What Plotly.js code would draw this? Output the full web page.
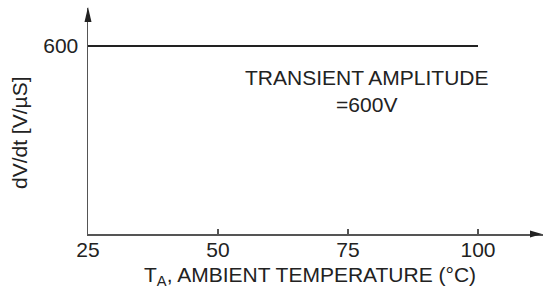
<!DOCTYPE html>
<html><head><meta charset="utf-8">
<script src="https://cdn.plot.ly/plotly-3.0.1.min.js"></script>
<style>html,body{margin:0;padding:0;background:#fff}#c{width:543px;height:291px}</style>
</head><body><div id="c"></div>
<script>
const temps = [25, 100];
const dvdt = [600, 600];
const xTicks = [25, 50, 75, 100];
const yTicks = [600];
const note = "TRANSIENT AMPLITUDE<br>=600V";
const xTitle = "T<sub>A</sub>, AMBIENT TEMPERATURE (°C)";
const yTitle = "dV/dt [V/µS]";

const W = 543, H = 291, L = 88, R = 0, T = 8, B = 57;
const pw = W - L - R, ph = H - T - B;
const px = x => (x - L) / pw;
const py = y => (H - B - y) / ph;
const FONT = "Liberation Sans, Arial, sans-serif";
const FS = 21;

const shapes = [
  {type:'path', xref:'paper', yref:'paper', fillcolor:'#222', line:{width:0},
   path:`M ${px(88)} ${py(7)} L ${px(84.5)} ${py(22)} L ${px(91.5)} ${py(22)} Z`},
  {type:'path', xref:'paper', yref:'paper', fillcolor:'#222', line:{width:0},
   path:`M ${px(542)} ${py(234)} L ${px(530)} ${py(230.5)} L ${px(530)} ${py(237.5)} Z`}
];

Plotly.newPlot('c', [{
  x: temps, y: dvdt, type:'scatter', mode:'lines',
  line:{color:'#222', width:2.2}, hoverinfo:'skip'
}], {
  width: W, height: H,
  margin:{l:L, r:R, t:T, b:B, pad:0},
  paper_bgcolor:'#fff', plot_bgcolor:'#fff',
  showlegend:false,
  font:{family:FONT, size:FS, color:'#222'},
  xaxis:{range:[25, 25 + pw/(390/75)], tickmode:'array', tickvals:xTicks,
    ticks:'inside', ticklen:5, tickcolor:'#555', tickwidth:1.3,
    showline:true, linecolor:'#555', linewidth:1.5, showgrid:false, zeroline:false,
    tickfont:{size:FS}, ticklabelstandoff:-4, fixedrange:true},
  yaxis:{range:[0, 600*ph/(234-46)], tickmode:'array', tickvals:yTicks,
    ticks:'', showline:true, linecolor:'#555', linewidth:1.5, showgrid:false, zeroline:false,
    tickfont:{size:FS}, ticklabelstandoff:4, fixedrange:true},
  shapes: shapes,
  annotations:[
    {text:note, xref:'paper', yref:'paper', x:px(367), y:py(91), showarrow:false,
     font:{size:FS}, align:'center', xanchor:'center', yanchor:'middle'},
    {text:xTitle, xref:'paper', yref:'paper', x:px(310), y:py(276), showarrow:false,
     font:{size:FS}, xanchor:'center', yanchor:'middle'},
    {text:yTitle, xref:'paper', yref:'paper', x:px(19), y:py(133), showarrow:false,
     font:{size:FS}, textangle:-90, xanchor:'center', yanchor:'middle'}
  ]
}, {staticPlot:true, displayModeBar:false});
</script></body></html>
